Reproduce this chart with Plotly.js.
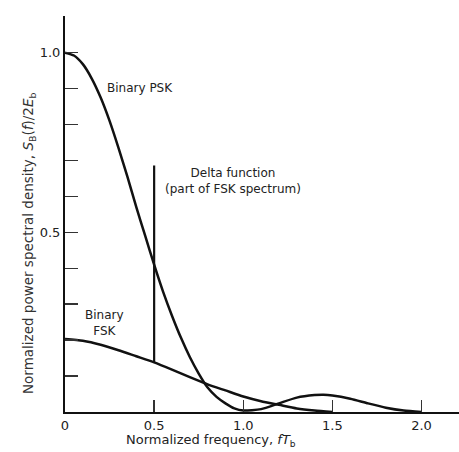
<!DOCTYPE html>
<html>
<head>
<meta charset="utf-8">
<script src="https://cdn.plot.ly/plotly-3.0.1.min.js"></script>
<style>html,body{margin:0;padding:0;background:#fff;}#chart{width:459px;height:452px;}</style>
</head>
<body>
<div id="chart"></div>
<script>
// Normalized frequency fT_b
var pskFreq = [0, 0.05, 0.1, 0.15, 0.2, 0.25, 0.3, 0.35, 0.4, 0.45, 0.5, 0.55, 0.6, 0.65, 0.7, 0.75, 0.8, 0.85, 0.9, 0.95, 1.0, 1.1, 1.2, 1.3, 1.4, 1.45, 1.5, 1.6, 1.7, 1.8, 1.9, 2.0];
var pskValues = [1.0, 0.992, 0.968, 0.928, 0.875, 0.81, 0.735, 0.655, 0.57, 0.49, 0.41, 0.335, 0.268, 0.207, 0.153, 0.107, 0.068, 0.042, 0.024, 0.01, 0.004, 0.008, 0.024, 0.04, 0.047, 0.048, 0.046, 0.037, 0.024, 0.012, 0.004, 0.0];
var fskFreq = [0, 0.1, 0.2, 0.3, 0.4, 0.5, 0.6, 0.7, 0.8, 0.9, 1.0, 1.1, 1.2, 1.3, 1.4, 1.5];
var fskValues = [0.203, 0.198, 0.187, 0.172, 0.155, 0.138, 0.118, 0.097, 0.077, 0.06, 0.043, 0.03, 0.02, 0.01, 0.004, 0.0];
var deltaFreq = [0.5, 0.5];
var deltaValues = [0.138, 0.686];
var xTickVals = [0, 0.5, 1.0, 1.5, 2.0];
var xTickText = ["0", "0.5", "1.0", "1.5", "2.0"];
var yTickVals = [0.5, 1.0];
var yTickText = ["0.5", "1.0"];

var lineStyle = {color: "#111", width: 2.5, shape: "spline", smoothing: 0.6};
var traces = [
  {x: pskFreq, y: pskValues, mode: "lines", line: lineStyle, hoverinfo: "skip"},
  {x: fskFreq, y: fskValues, mode: "lines", line: lineStyle, hoverinfo: "skip"},
  {x: deltaFreq, y: deltaValues, mode: "lines", line: {color: "#111", width: 2.2}, hoverinfo: "skip"}
];
var fam = "DejaVu Sans, Verdana, sans-serif";
var txtFont = {family: fam, size: 12, color: "#222"};
var layout = {
  width: 459, height: 452,
  margin: {l: 65, r: 0, t: 16, b: 40},
  paper_bgcolor: "#fff", plot_bgcolor: "#fff",
  showlegend: false,
  font: {family: fam, size: 12, color: "#222"},
  xaxis: {
    range: [0, 2.21], showgrid: false, zeroline: false,
    showline: true, linecolor: "#111", linewidth: 2,
    tickmode: "array", tickvals: xTickVals, ticktext: xTickText,
    ticks: "inside", ticklen: 12, tickwidth: 1.5, tickcolor: "#333",
    tickfont: {family: fam, size: 13, color: "#222"}
  },
  yaxis: {
    range: [0, 1.102], showgrid: false, zeroline: false,
    showline: true, linecolor: "#111", linewidth: 2,
    tickmode: "array", tickvals: yTickVals, ticktext: yTickText,
    ticks: "inside", ticklen: 13, tickwidth: 1.5, tickcolor: "#333",
    tickfont: {family: fam, size: 13, color: "#222"},
    minor: {tickmode: "linear", tick0: 0, dtick: 0.1, ticks: "inside", ticklen: 13, tickwidth: 1.5, tickcolor: "#333", showgrid: false}
  },
  annotations: [
    {x: 0.419, y: 0.902, xref: "x", yref: "y", text: "Binary PSK", showarrow: false, font: txtFont},
    {x: 0.944, y: 0.644, xref: "x", yref: "y", text: "Delta function<br>(part of FSK spectrum)", showarrow: false, font: txtFont},
    {x: 0.219, y: 0.247, xref: "x", yref: "y", text: "Binary<br>FSK", showarrow: false, font: txtFont},
    {x: (211 - 65) / 394, y: -(451 - 412) / 396, xref: "paper", yref: "paper", yanchor: "bottom", text: "Normalized frequency, <i>fT</i><sub>b</sub>", showarrow: false, font: {family: fam, size: 13, color: "#222"}},
    {x: -(65 - 18) / 394, y: (412 - 244) / 396, xref: "paper", yref: "paper", text: "Normalized power spectral density, <i>S</i><sub>B</sub>(<i>f</i>)/2<i>E</i><sub>b</sub>", textangle: -90, showarrow: false, font: {family: fam, size: 13.5, color: "#333"}}
  ]
};
Plotly.newPlot("chart", traces, layout, {displayModeBar: false, staticPlot: true});
</script>
</body>
</html>
